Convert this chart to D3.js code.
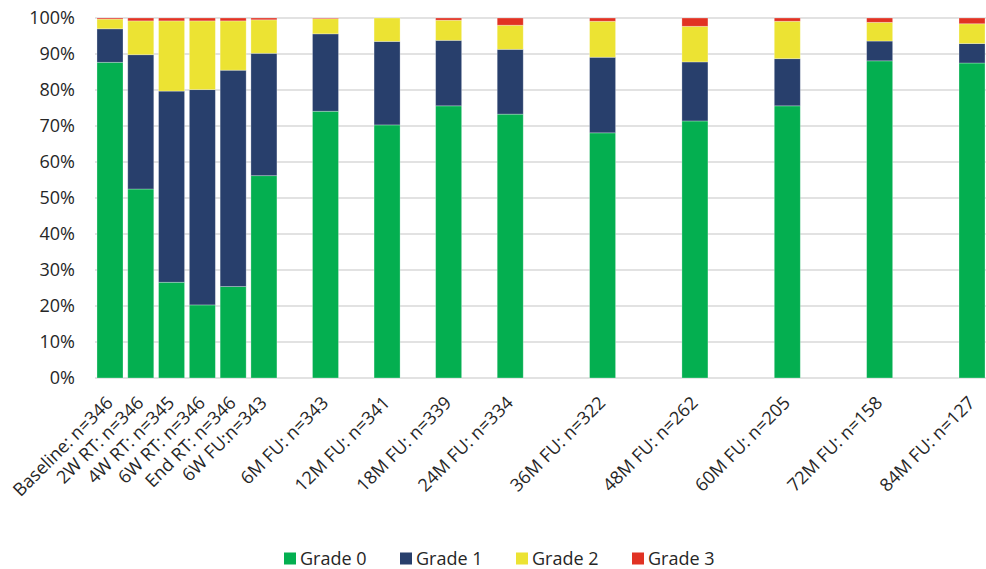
<!DOCTYPE html>
<html>
<head>
<meta charset="utf-8">
<script src="https://cdn.jsdelivr.net/npm/d3@7"></script>
<style>
  html, body { margin: 0; padding: 0; background: #fff; }
  svg { display: block; font-family: "Open Sans", "Liberation Sans", sans-serif; }
</style>
</head>
<body>
<svg id="chart" width="986" height="569"></svg>
<script>
// ---- Data ----
const categories = [
  "Baseline: n=346", "2W RT: n=346", "4W RT: n=345", "6W RT: n=346", "End RT: n=346", "6W FU:n=343",
  "6M FU: n=343", "12M FU: n=341", "18M FU: n=339", "24M FU: n=334",
  "36M FU: n=322", "48M FU: n=262", "60M FU: n=205", "72M FU: n=158", "84M FU: n=127"
];
// number of empty category slots before each category (as in the original sheet)
const emptySlotsBefore = [0, 0, 0, 0, 0, 0, 1, 1, 1, 1, 2, 2, 2, 2, 2];

const seriesNames = ["Grade 0", "Grade 1", "Grade 2", "Grade 3"];
const grade0 = [87.7, 52.5, 26.6, 20.3, 25.4, 56.2, 74.1, 70.3, 75.6, 73.3, 68.1, 71.4, 75.6, 88.1, 87.5];
const grade1 = [9.3, 37.3, 53.1, 59.8, 60.1, 34.0, 21.5, 23.2, 18.2, 18.0, 21.0, 16.4, 13.1, 5.5, 5.4];
const grade2 = [2.7, 9.4, 19.5, 19.1, 13.7, 9.3, 4.2, 6.5, 5.6, 6.7, 10.0, 9.9, 10.4, 5.2, 5.5];
const grade3 = [0.3, 0.8, 0.8, 0.8, 0.8, 0.5, 0.2, 0.0, 0.6, 2.0, 0.9, 2.3, 0.9, 1.2, 1.6];
const yTicks = [0, 10, 20, 30, 40, 50, 60, 70, 80, 90, 100];

const colors = ["#04AF50", "#283F6C", "#ECE333", "#E13223"];

// ---- Build ----
const rows = categories.map((c, i) => ({
  cat: c, "Grade 0": grade0[i], "Grade 1": grade1[i], "Grade 2": grade2[i], "Grade 3": grade3[i]
}));
const domain = [];
categories.forEach((c, i) => {
  for (let k = 0; k < emptySlotsBefore[i]; k++) domain.push("__gap" + i + "_" + k);
  domain.push(c);
});

const svg = d3.select("#chart");
const x = d3.scaleBand().domain(domain).range([94.6, 987.4]).paddingInner(0.155).paddingOuter(0.0775);
const y = d3.scaleLinear().domain([0, 100]).range([378, 18]);

// gridlines
svg.append("g").selectAll("line").data(yTicks).join("line")
  .attr("x1", 95).attr("x2", 986)
  .attr("y1", d => y(d)).attr("y2", d => y(d))
  .attr("stroke", "#d9d9d9").attr("stroke-width", 1.5);

// stacked bars
const stack = d3.stack().keys(seriesNames);
const layers = stack(rows);
const g = svg.append("g");
layers.forEach((layer, li) => {
  g.append("g").attr("fill", colors[li]).selectAll("rect").data(layer).join("rect")
    .attr("x", d => x(d.data.cat))
    .attr("width", x.bandwidth())
    .attr("y", d => y(d[1]))
    .attr("height", d => Math.max(0, y(d[0]) - y(d[1])))
    .attr("stroke", "#ffffff").attr("stroke-opacity", 0.35).attr("stroke-width", 0.8);
});

// y axis labels
const yAxis = d3.axisLeft(y).tickValues(yTicks).tickFormat(d => d + "%").tickSize(0).tickPadding(0);
const ya = svg.append("g").attr("transform", "translate(75,0)").call(yAxis);
ya.select(".domain").remove();
ya.selectAll("text").attr("font-size", 18).attr("fill", "#262626")
  .attr("font-family", "'Open Sans', sans-serif");

// x axis labels
const xAxis = d3.axisBottom(x).tickValues(categories).tickSize(0).tickPadding(0);
const xa = svg.append("g").attr("transform", "translate(0,378)").call(xAxis);
xa.select(".domain").remove();
xa.selectAll("text")
  .attr("font-size", 18).attr("fill", "#262626")
  .attr("font-family", "'Open Sans', sans-serif")
  .attr("text-anchor", "end")
  .attr("dy", 0)
  .attr("transform", "translate(4,26) rotate(-45)");

// legend
const legendX = [284, 400, 516, 632];
const lg = svg.append("g");
seriesNames.forEach((s, i) => {
  lg.append("rect").attr("x", legendX[i]).attr("y", 552.5).attr("width", 12).attr("height", 12).attr("fill", colors[i]);
  lg.append("text").attr("x", legendX[i] + 16).attr("y", 565)
    .attr("font-size", 18).attr("fill", "#262626").text(s);
});
</script>
</body>
</html>
